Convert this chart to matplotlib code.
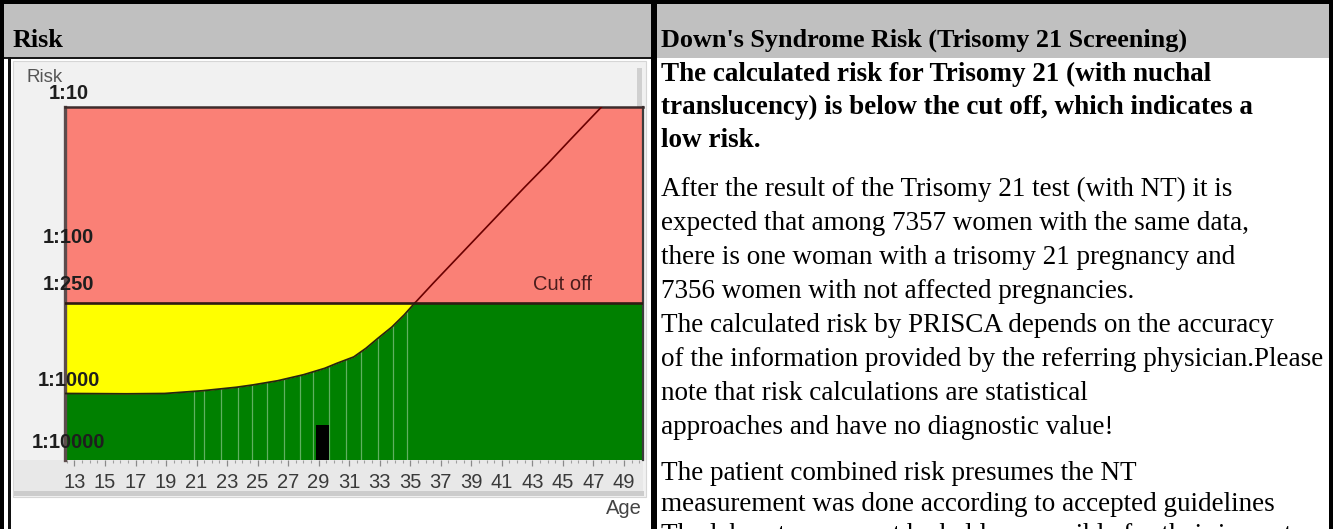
import numpy as np
import matplotlib
matplotlib.use("Agg")
import matplotlib.pyplot as plt
from matplotlib.patches import Rectangle
from matplotlib.path import Path
import matplotlib.transforms as mtransforms
from matplotlib.ticker import NullLocator

plt.rcParams['font.family'] = ['Liberation Sans', 'DejaVu Sans']
SERIF = ['Liberation Serif', 'DejaVu Serif']

# ---------------- data ----------------
curve_age = [12.0, 12.5, 16.4, 18.9, 21.4, 23.6, 24.7, 26.3, 28.0, 29.4, 30.2,
             31.3, 32.1, 32.9, 33.8, 34.6, 35.3, 36.5, 38.0, 39.5, 41.0, 42.5,
             44.0, 45.5, 47.0, 48.0]
curve_risk = [1650, 1650, 1670, 1650, 1490, 1310, 1200, 1030, 910, 810, 740,
              660, 565, 470, 385, 310, 250, 190, 136, 97, 66, 45,
              31, 21, 14.3, 11.1]
cutoff_risk = 250
patient_age = 29.25
patient_risk = 5400
grid_ages = [20.8, 21.5, 22.6, 23.7, 24.6, 25.6, 26.7, 27.8, 28.6, 29.7, 30.8,
             31.8, 32.9, 33.9, 34.8]
y_label_values = [10, 100, 250, 1000, 10000]
y_label_texts = ['1:10', '1:100', '1:250', '1:1000', '1:10000']
x_label_ages = list(range(13, 50, 2))
x_minor_ages = [a / 2 for a in range(25, 101) if a % 4 != 2]
x_range = (12.38, 50.25)
y_range = (19500, 12.5)

left_header = 'Risk'
right_header = "Down's Syndrome Risk (Trisomy 21 Screening)"
bold_lines = ["The calculated risk for Trisomy 21 (with nuchal",
              "translucency) is below the cut off, which indicates a",
              "low risk."]
para1_lines = ["After the result of the Trisomy 21 test (with NT) it is",
               "expected that among 7357 women with the same data,",
               "there is one woman with a trisomy 21 pregnancy and",
               "7356 women with not affected pregnancies.",
               "The calculated risk by PRISCA depends on the accuracy",
               "of the information provided by the referring physician.Please",
               "note that risk calculations are statistical",
               "approaches and have no diagnostic value!"]
para2_lines = ["The patient combined risk presumes the NT",
               "measurement was done according to accepted guidelines",
               "The laboratory cannot be held responsible for their impact"]

# ---------------- figure ----------------
W, H, DPI = 1333, 529, 100
fig = plt.figure(figsize=(W / DPI, H / DPI), dpi=DPI)
fig.patch.set_facecolor('white')


def fx(x):
    return x / W


def fy(y):
    return 1 - y / H


def rect(x0, y0, x1, y1, color, z=-5, ec='none', lw=0):
    r = Rectangle((fx(x0), fy(y1)), (x1 - x0) / W, (y1 - y0) / H,
                  transform=fig.transFigure, facecolor=color, edgecolor=ec,
                  lw=lw, zorder=z)
    fig.add_artist(r)


# table header band and borders
rect(0, 0, W, 58, '#c0c0c0')
rect(4, 57, 652, 59, '#1a1a1a', z=6)
rect(8, 57, 10.5, H, '#111111', z=6)
rect(0, 0, W, 4, 'black', z=6)
rect(0, 0, 4, H, 'black', z=6)
rect(W - 4, 0, W, H, 'black', z=6)
rect(651, 0, 657, H, 'black', z=6)

# chart widget background
rect(13, 61, 646, 497, '#f1f1f1', ec='#d6d6d6', lw=0.8)
rect(637, 68, 642, 107, '#d0d0d0', z=-4)
rect(14, 460, 643, 491, '#e8e8e8', z=-4)
rect(14, 491, 644, 496, '#cccccc', z=-4)

# ---------------- axes ----------------
ax = fig.add_axes([fx(65), fy(460), (643 - 65) / W, (460 - 107) / H])

KL = np.array([0.0, 1.0, 2.0, np.log10(250), 3.0, 4.0, 5.0])
KP = np.array([-52.0, 93.0, 237.0, 303.0, 380.0, 442.0, 504.0])


def fwd(r):
    r = np.asarray(r, dtype=float)
    L = np.log10(np.where(r > 0, r, 1e-6))
    return np.interp(L, KL, KP)


def inv(p):
    p = np.asarray(p, dtype=float)
    return 10 ** np.interp(p, KP, KL)


ax.set_yscale('function', functions=(fwd, inv))
ax.set_xlim(*x_range)
ax.set_ylim(*y_range)

RED = '#fa8076'
GREEN = '#008000'
YELLOW = '#ffff00'
ax.set_facecolor(RED)
ax.axhspan(cutoff_risk, y_range[0], color=GREEN, lw=0, zorder=1)

ca = np.array(curve_age)
cr = np.array(curve_risk, dtype=float)
lo = cr >= cutoff_risk
hi = cr <= cutoff_risk
ax.fill_between(ca[lo], cutoff_risk, cr[lo], color=YELLOW, lw=0, zorder=2)

# faint vertical separators under the curve
verts = list(zip(ca, cr)) + [(ca[-1], y_range[0]), (ca[0], y_range[0]), (ca[0], cr[0])]
clip = Path(verts, closed=True)
vl = ax.vlines(grid_ages, y_range[0], y_range[1], colors='#d8ecd8', alpha=0.45,
               lw=0.9, zorder=3)
vl.set_clip_path(clip, ax.transData)

ax.plot(ca[lo], cr[lo], color='#262610', lw=1.3, zorder=4)
ax.plot(ca[hi], cr[hi], color='#6a0000', lw=1.2, zorder=4)
ax.axhline(cutoff_risk, color='#2e1c12', lw=1.9, zorder=5)

ax.bar(patient_age, patient_risk - y_range[0], bottom=y_range[0], width=0.85,
       color='black', lw=0, zorder=6)

ax.spines['bottom'].set_visible(False)
ax.spines['left'].set_color('#5c4c4c')
ax.spines['left'].set_linewidth(2.4)
ax.spines['top'].set_color('#3c2c2c')
ax.spines['top'].set_linewidth(1.8)
ax.spines['right'].set_color('#3c3c3c')
ax.spines['right'].set_linewidth(1.6)

ax.set_yticks([])
ax.yaxis.set_minor_locator(NullLocator())
ax.set_xticks(x_label_ages, [str(a) for a in x_label_ages])
ax.set_xticks(x_minor_ages, minor=True)
ax.tick_params(axis='x', which='major', direction='out', length=4, width=0.9,
               color='#8a8a8a', pad=5.5, labelsize=14.5, labelcolor='#3a3a3a')
ax.tick_params(axis='x', which='minor', direction='out', length=2.5, width=0.8,
               color='#a0a0a0')

up = mtransforms.ScaledTranslation(0, 0.09, fig.dpi_scale_trans)
ytrans = ax.get_yaxis_transform()
for v, t in zip(y_label_values, y_label_texts):
    if v == cutoff_risk:
        ax.text(0.006, v, t, transform=ytrans + up, ha='center', va='bottom',
                fontsize=14.5, fontweight='bold', color='#1e1e1e', zorder=10,
                clip_on=False)
    else:
        ax.text(0.006, v, t, transform=ytrans, ha='center', va='center',
                fontsize=14.5, fontweight='bold', color='#1e1e1e', zorder=10,
                clip_on=False)

ax.text(45, cutoff_risk, 'Cut off', transform=ax.transData + up, ha='center',
        va='bottom', fontsize=14.5, color='#4a1c1c', zorder=10)

fig.text(fx(27), fy(77), 'Risk', ha='left', va='center', fontsize=13.5,
         color='#555555')
fig.text(fx(642), fy(508), 'Age', ha='right', va='center', fontsize=14.5,
         color='#444444')

# ---------------- table text ----------------
FS = 19.5
FSH = 18.8
fig.text(fx(13), fy(47), left_header, family=SERIF, fontweight='bold',
         fontsize=FSH, va='baseline', ha='left')
fig.text(fx(661), fy(47), right_header, family=SERIF, fontweight='bold',
         fontsize=FSH, va='baseline', ha='left')

y = 81
for line in bold_lines:
    fig.text(fx(661), fy(y), line, family=SERIF, fontweight='bold',
             fontsize=FS, va='baseline', ha='left')
    y += 33
y = 196
for line in para1_lines:
    fig.text(fx(661), fy(y), line, family=SERIF, fontsize=FS,
             va='baseline', ha='left')
    y += 34
y = 480
for line in para2_lines:
    fig.text(fx(661), fy(y), line, family=SERIF, fontsize=FS,
             va='baseline', ha='left')
    y += 31

fig.savefig('out.png', dpi=DPI)
